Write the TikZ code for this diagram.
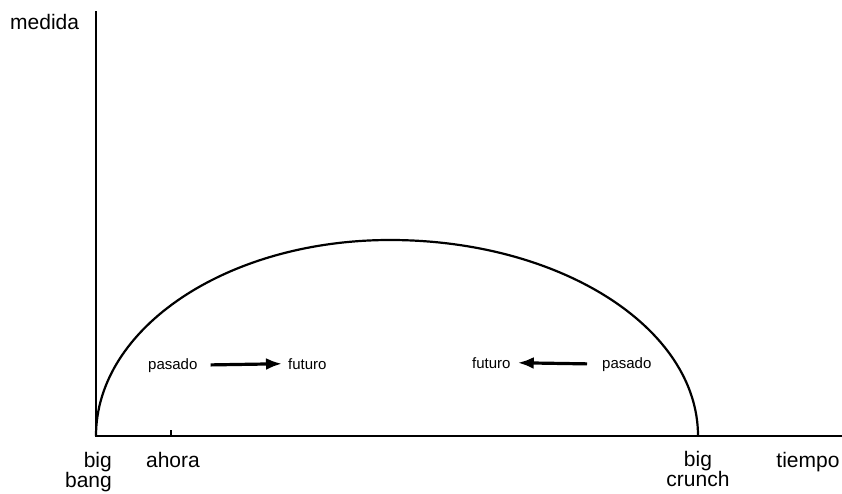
\documentclass[tikz,border=0pt]{standalone}
\usepackage{fontspec}
\setmainfont{Liberation Sans}
\usepackage{tikz}
\usetikzlibrary{arrows.meta, positioning}

\begin{document}
\begin{tikzpicture}[
  x=1pt, y=1pt,
  %--- style definitions ---
  axis/.style      = {line width=2.6pt, line cap=rect},
  curve/.style     = {line width=2.2pt},
  biglabel/.style  = {inner sep=0pt, font=\fontsize{21}{20}\selectfont, align=center},
  smalllabel/.style= {inner sep=0pt, font=\fontsize{15}{15}\selectfont},
  arrow/.style     = {-{Latex[length=16pt,width=12pt]}, line width=3.2pt},
]
\useasboundingbox (0,0) rectangle (842,493);

%% ── AXES ───────────────────────────────────────────────────────────────────
\coordinate (origin) at (96,57);
\coordinate (ytop)   at (96,481);
\coordinate (xend)   at (842,57);
\coordinate (crunch) at (698,57);
\coordinate (now)    at (171,57);
\coordinate (nowtop) at (171,63);

\draw[axis] (ytop) -- (origin) -- (xend);
\draw[line width=1.8pt] (now) -- (nowtop);

%% ── EXPANSION / CONTRACTION CURVE ──────────────────────────────────────────
\draw[curve] (origin) arc[start angle=180, end angle=90, x radius=294, y radius=196]
                      arc[start angle=90, end angle=0, x radius=308, y radius=196];

%% ── AXIS LABELS ────────────────────────────────────────────────────────────
\node[biglabel, anchor=base west] (medida) at (10,463) {medida};
\node[biglabel, anchor=base] (tiempo) at (808,26) {tiempo};
\node[biglabel, anchor=north east, align=right] (bang) at (112,41) {big\\bang};
\node[biglabel, anchor=base] (ahora) at (173,26) {ahora};
\node[biglabel, anchor=north] (crunchlbl) at (698,42) {big\\crunch};

%% ── ARROWS OF TIME ─────────────────────────────────────────────────────────
\node[smalllabel, anchor=base west] (pasL) at (148,124) {pasado};
\node[smalllabel, anchor=base west] (futL) at (288,124) {futuro};
\node[smalllabel, anchor=base west] (futR) at (472,125) {futuro};
\node[smalllabel, anchor=base west] (pasR) at (602,125) {pasado};

\draw[arrow, shorten <=13pt, shorten >=6pt] (pasL.east) -- (futL.west);
\draw[arrow, shorten <=15pt, shorten >=7pt] (pasR.west) -- (futR.east);

\end{tikzpicture}
\end{document}
